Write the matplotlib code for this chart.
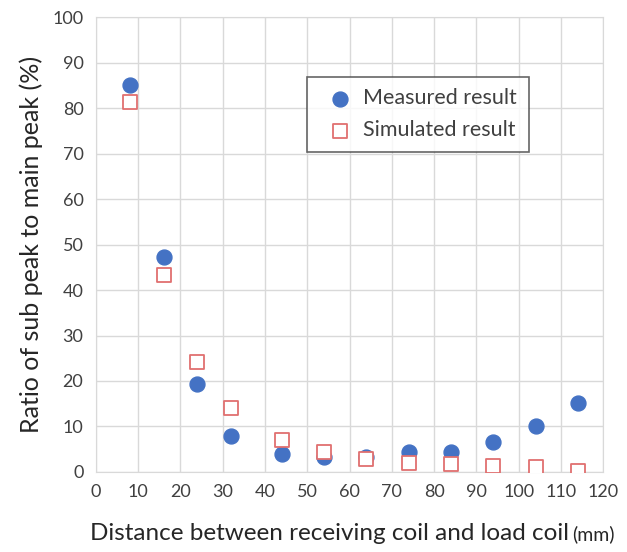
import numpy as np
import matplotlib.pyplot as plt

# Distances (mm) and ratios (%)
dist = [8, 16, 24, 32, 44, 54, 64, 74, 84, 94, 104, 114]
measured = [85.0, 47.2, 19.3, 8.0, 4.0, 3.2, 3.3, 4.3, 4.3, 6.6, 10.2, 15.2]
simulated = [81.3, 43.3, 24.1, 14.1, 7.0, 4.3, 2.9, 2.0, 1.7, 1.3, 1.0, 0.2]
xticks = list(range(0, 121, 10))
yticks = list(range(0, 101, 10))

plt.rcParams['font.family'] = ['Lato', 'DejaVu Sans']

fig = plt.figure(figsize=(6.27, 5.52), dpi=100)
ax = fig.add_axes([0.153, 0.145, 0.809, 0.824])

ax.scatter(dist, measured, s=115, color='#4472C4', label='Measured result', zorder=3)
ax.scatter(dist, simulated, s=115, marker='s', facecolor='white', edgecolor='#E07070',
           linewidth=1.3, label='Simulated result', zorder=3)

ax.set_xlim(0, 120)
ax.set_ylim(0, 100)
ax.set_xticks(xticks)
ax.set_yticks(yticks)
ax.tick_params(length=0, labelsize=13, colors='#404040', pad=9)
ax.grid(color='#D9D9D9', linewidth=1)
ax.set_axisbelow(True)
for s in ax.spines.values():
    s.set_color('#D9D9D9')

ax.set_ylabel('Ratio of sub peak to main peak (%)', fontsize=18, color='#262626', labelpad=7)

# x label: main text plus smaller unit
t1 = fig.text(0.143, 0.022, 'Distance between receiving coil and load coil', fontsize=17.5,
              color='#262626', ha='left', va='baseline')
fig.canvas.draw()
bb = t1.get_window_extent().transformed(fig.transFigure.inverted())
fig.text(bb.x1 + 0.006, 0.022, '(mm)', fontsize=14, color='#262626', ha='left', va='baseline')

leg = ax.legend(loc='upper left', bbox_to_anchor=(0.395, 0.893), fontsize=15.5,
                frameon=True, fancybox=False, handletextpad=0.05, borderpad=0.55,
                labelspacing=0.55, handlelength=2.0, labelcolor='#404040')
leg.get_frame().set_edgecolor('#404040')
leg.get_frame().set_linewidth(1.2)

fig.savefig('out.png', dpi=100)
